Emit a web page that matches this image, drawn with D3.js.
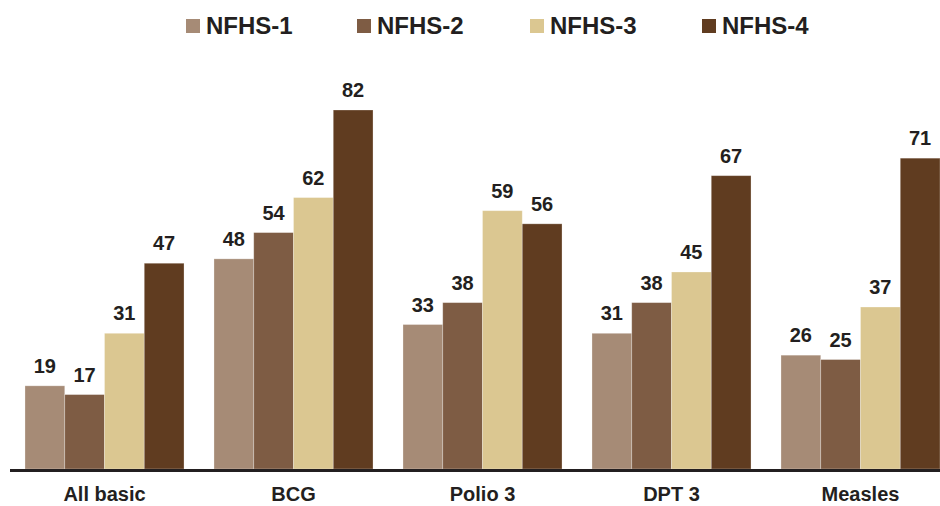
<!DOCTYPE html>
<html>
<head>
<meta charset="utf-8">
<script src="https://cdn.jsdelivr.net/npm/d3@7"></script>
<style>
  html, body { margin: 0; padding: 0; background: #fff; }
  svg { display: block; }
  text { font-family: "Liberation Sans", Arial, sans-serif; font-weight: bold; fill: #231F20; }
</style>
</head>
<body>
<svg id="chart" width="940" height="506"></svg>
<script>
const categories = ["All basic", "BCG", "Polio 3", "DPT 3", "Measles"];
const seriesNames = ["NFHS-1", "NFHS-2", "NFHS-3", "NFHS-4"];
const nfhs1 = [19, 48, 33, 31, 26];
const nfhs2 = [17, 54, 38, 38, 25];
const nfhs3 = [31, 62, 59, 45, 37];
const nfhs4 = [47, 82, 56, 67, 71];
const seriesValues = [nfhs1, nfhs2, nfhs3, nfhs4];
const colors = ["#A68B76", "#7E5C44", "#DBC791", "#603C20"];

const svg = d3.select("#chart");
const baseY = 469;

const x0 = d3.scaleBand().domain(categories).range([10, 955]).padding(0);
const x1 = d3.scaleBand().domain(seriesNames).range([0, x0.bandwidth()]).paddingInner(0).paddingOuter(0.377);
const y = d3.scaleLinear().domain([0, 82]).range([baseY, 110]);

const groups = svg.append("g").selectAll("g")
  .data(categories)
  .join("g")
  .attr("transform", d => `translate(${x0(d)},0)`);

groups.each(function(cat, ci) {
  const g = d3.select(this);
  seriesNames.forEach((s, si) => {
    const v = seriesValues[si][ci];
    g.append("rect")
      .attr("x", x1(s))
      .attr("y", y(v))
      .attr("width", x1.bandwidth())
      .attr("height", baseY - y(v))
      .attr("fill", colors[si])
      .attr("stroke", "rgba(255,255,255,0.35)")
      .attr("stroke-width", 0.8);
    g.append("text")
      .attr("x", x1(s) + x1.bandwidth() / 2)
      .attr("y", y(v) - 13)
      .attr("text-anchor", "middle")
      .attr("font-size", 20)
      .text(v);
  });
});

// axis
const xAxis = d3.axisBottom(x0).tickSize(0).tickPadding(18);
const axG = svg.append("g").attr("transform", `translate(0,${baseY})`).call(xAxis);
axG.select(".domain").remove();
axG.selectAll("text")
  .attr("font-size", 20)
  .attr("font-family", "Liberation Sans, Arial, sans-serif")
  .attr("font-weight", "bold")
  .attr("fill", "#231F20");
svg.append("line")
  .attr("x1", 10).attr("x2", 940)
  .attr("y1", 470.5).attr("y2", 470.5)
  .attr("stroke", "#231F20").attr("stroke-width", 3);

// legend
const legendX = [186, 357, 530, 702];
const legend = svg.append("g").selectAll("g")
  .data(seriesNames)
  .join("g")
  .attr("transform", (d, i) => `translate(${legendX[i]},0)`);
legend.append("rect")
  .attr("x", 0).attr("y", 19).attr("width", 14).attr("height", 14)
  .attr("fill", (d, i) => colors[i]);
legend.append("text")
  .attr("x", 20).attr("y", 34)
  .attr("font-size", 24)
  .text(d => d);
</script>
</body>
</html>
